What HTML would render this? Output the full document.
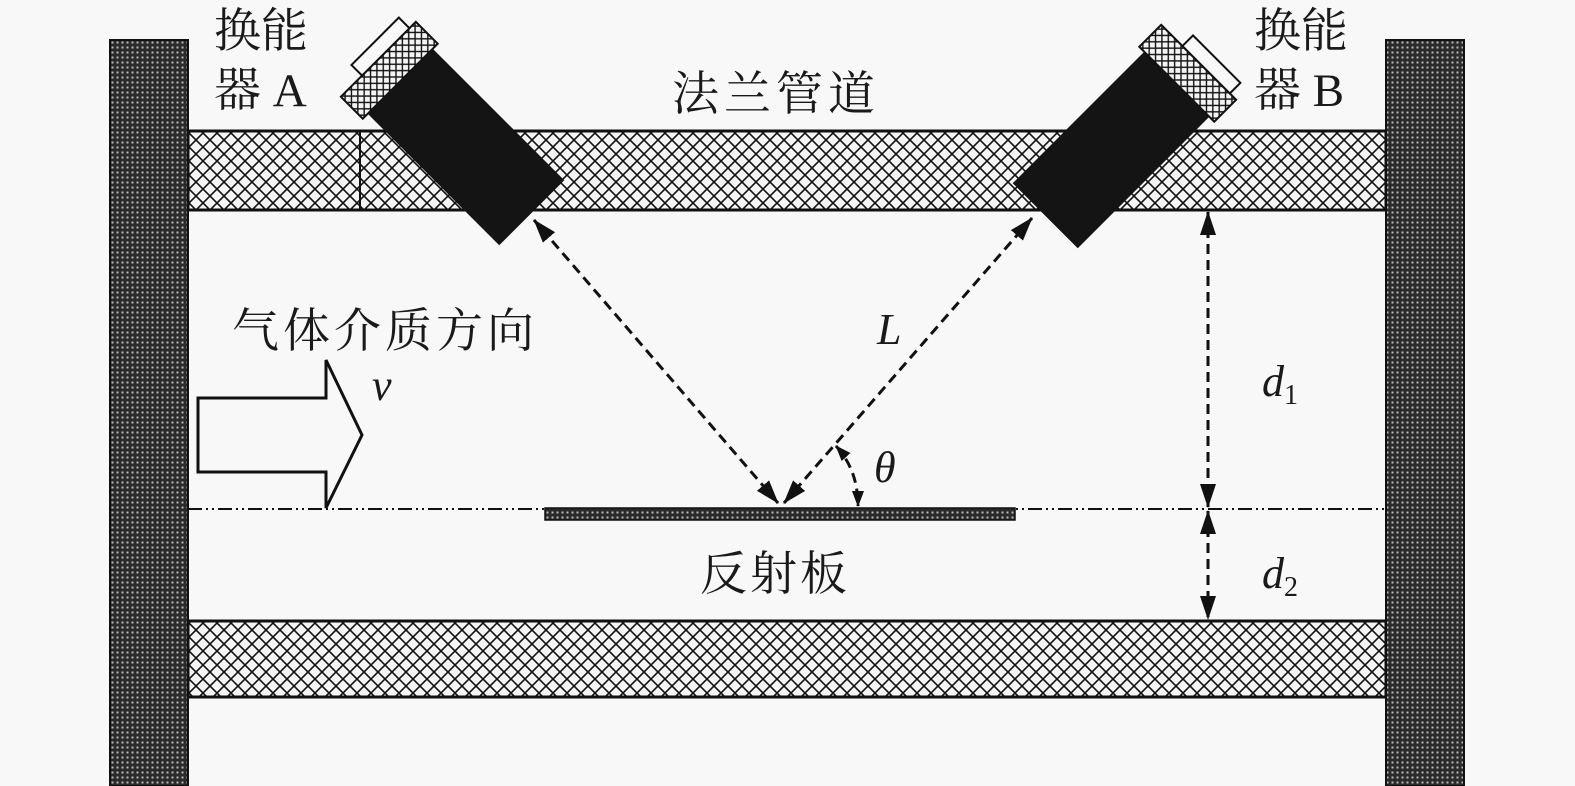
<!DOCTYPE html>
<html><head><meta charset="utf-8"><style>
html,body{margin:0;padding:0;background:#f8f8f8;}
svg{display:block;}
text{font-family:"Liberation Serif","Noto Serif CJK SC","Noto Sans CJK SC",serif;fill:#1a1a1a;}
</style></head><body>
<svg width="1575" height="786" viewBox="0 0 1575 786" xmlns="http://www.w3.org/2000/svg">
<defs>
<pattern id="xh" width="14" height="14" patternUnits="userSpaceOnUse">
<rect width="14" height="14" fill="#f4f4f4"/>
<path d="M0 0L14 14M14 0L0 14" stroke="#111" stroke-width="1.6"/>
</pattern>
<pattern id="dk" width="5" height="5" patternUnits="userSpaceOnUse">
<rect width="5" height="5" fill="#2a2a2a"/>
<rect x="1.5" y="1.5" width="2" height="2" fill="#bbb"/>
</pattern>
<pattern id="xs" width="9" height="9" patternUnits="userSpaceOnUse">
<rect width="9" height="9" fill="#f4f4f4"/>
<path d="M0 0L9 9M9 0L0 9" stroke="#111" stroke-width="1.4"/>
</pattern>
<marker id="ah" markerWidth="16" markerHeight="12" refX="15" refY="6" orient="auto-start-reverse" markerUnits="userSpaceOnUse">
<path d="M0 0L16 6L0 12Z" fill="#111"/>
</marker>
<marker id="ah2" markerWidth="24" markerHeight="16" refX="23" refY="8" orient="auto-start-reverse" markerUnits="userSpaceOnUse">
<path d="M0 0L24 8L0 16Z" fill="#111"/>
</marker>
</defs>

<rect x="188" y="131" width="1198" height="79" fill="url(#xh)" stroke="#111" stroke-width="3"/>
<line x1="360" y1="131" x2="360" y2="210" stroke="#111" stroke-width="2"/>
<rect x="188" y="621" width="1198" height="76" fill="url(#xh)" stroke="#111" stroke-width="3"/>

<rect x="110" y="40" width="78" height="746" fill="url(#dk)" stroke="#111" stroke-width="2"/>
<rect x="1386" y="40" width="78" height="746" fill="url(#dk)" stroke="#111" stroke-width="2"/>

<g transform="translate(466,147) rotate(45)">
<rect x="-124" y="-53" width="31" height="106" fill="url(#xs)" stroke="#111" stroke-width="2"/>
<rect x="-139" y="-44" width="15" height="67" fill="#f8f8f8" stroke="#111" stroke-width="2"/>
<rect x="-93" y="-46" width="186" height="92" fill="#141414"/>
</g>
<g transform="translate(1111,150) scale(-1,1) rotate(45)">
<rect x="-124" y="-53" width="31" height="106" fill="url(#xs)" stroke="#111" stroke-width="2"/>
<rect x="-139" y="-23" width="15" height="67" fill="#f8f8f8" stroke="#111" stroke-width="2"/>
<rect x="-93" y="-46" width="186" height="92" fill="#141414"/>
</g>

<line x1="188" y1="509" x2="1386" y2="509" stroke="#111" stroke-width="2" stroke-dasharray="14,4,2,4,2,4"/>
<rect x="545" y="508" width="470" height="12" fill="url(#dk)" stroke="#111" stroke-width="1.5"/>

<g stroke="#111" stroke-width="3" stroke-dasharray="10,6" fill="none">
<line x1="778" y1="503" x2="534" y2="220" marker-end="url(#ah2)" marker-start="url(#ah2)"/>
<line x1="784" y1="503" x2="1032" y2="218" marker-end="url(#ah2)" marker-start="url(#ah2)"/>
<path d="M836 446 Q858 470 858 506" marker-start="url(#ah)" marker-end="url(#ah)"/>
<line x1="1208" y1="212" x2="1208" y2="507" marker-end="url(#ah2)" marker-start="url(#ah2)"/>
<line x1="1208" y1="511" x2="1208" y2="619" marker-end="url(#ah2)" marker-start="url(#ah2)"/>
</g>

<path d="M198 398H326V360L362 435L326 508V472H198Z" fill="#f8f8f8" stroke="#111" stroke-width="3" stroke-linejoin="miter"/>

<g font-size="47">
<text x="214" y="47">换能</text>
<text x="214" y="106">器 A</text>
<text x="1254" y="47">换能</text>
<text x="1254" y="106">器 B</text>
<text x="672" y="110" letter-spacing="5">法兰管道</text>
<text x="232" y="347" letter-spacing="4">气体介质方向</text>
<text x="700" y="590" letter-spacing="3">反射板</text>
</g>
<g font-size="44" font-style="italic">
<text x="372" y="400">v</text>
<text x="877" y="344">L</text>
<text x="874" y="482">θ</text>
<text x="1262" y="396">d<tspan font-size="28" font-style="normal" dy="8">1</tspan></text>
<text x="1262" y="588">d<tspan font-size="28" font-style="normal" dy="8">2</tspan></text>
</g>
</svg>
</body></html>
